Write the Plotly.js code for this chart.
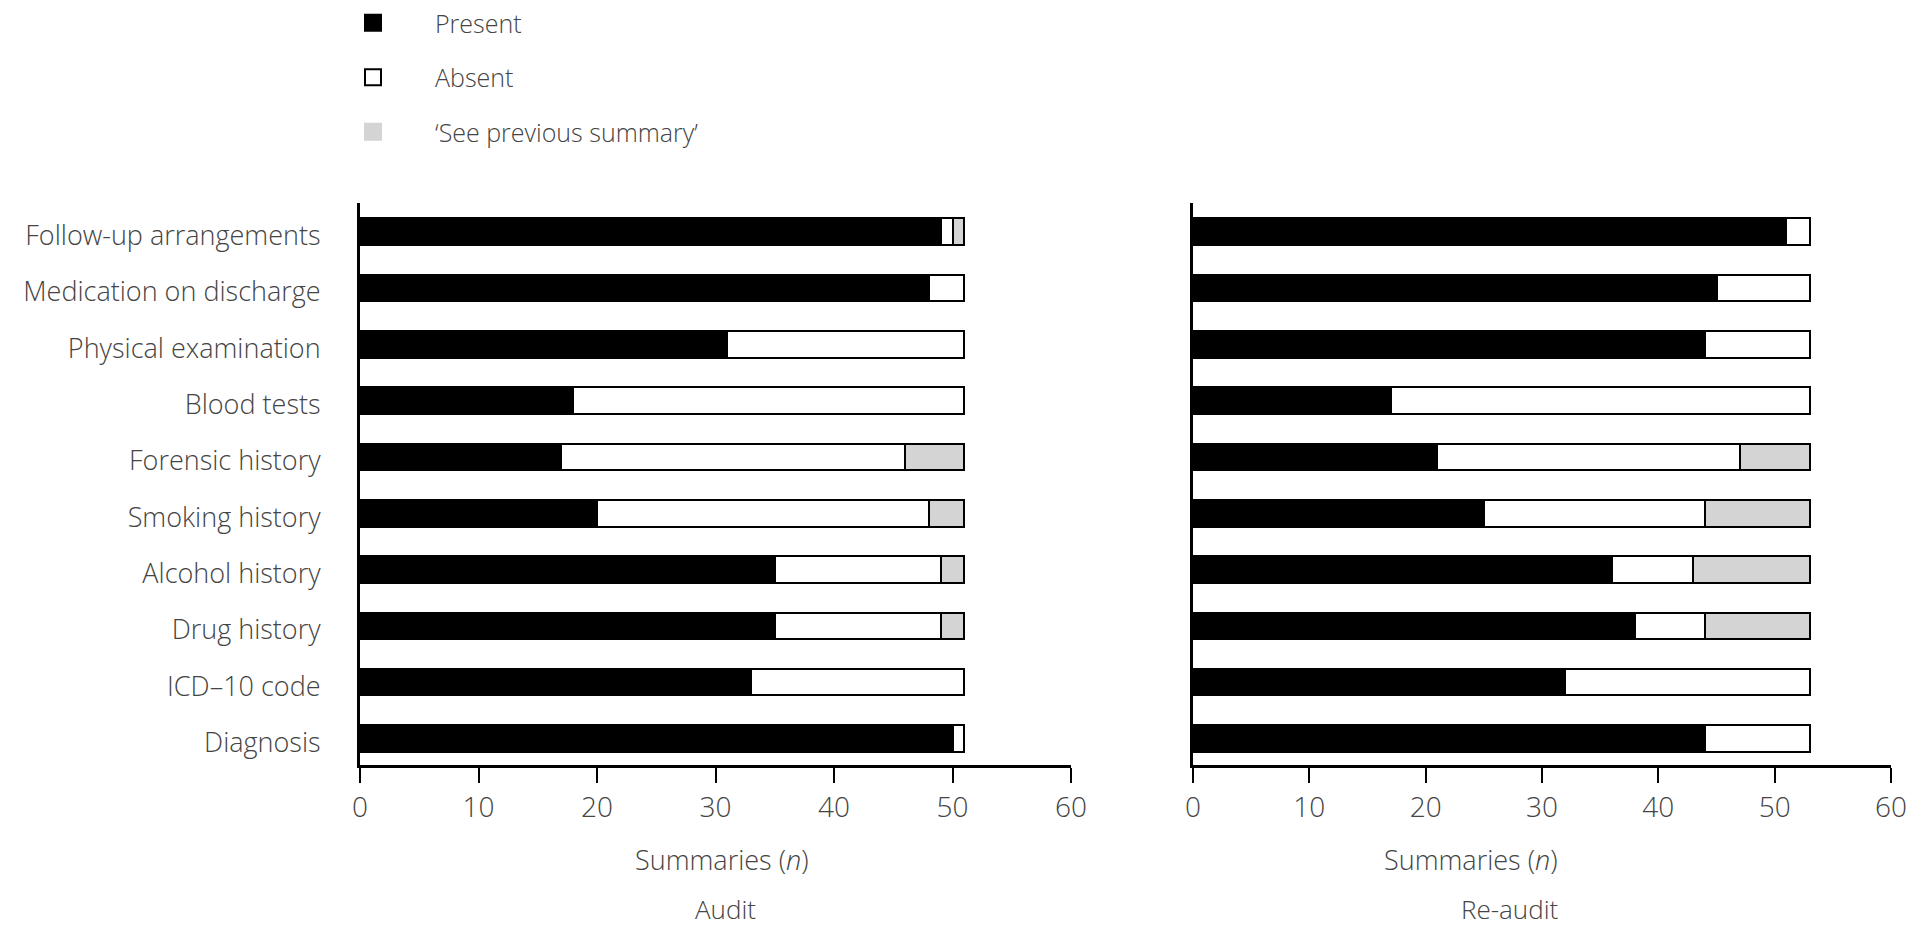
<!DOCTYPE html>
<html><head><meta charset="utf-8">
<script src="https://cdn.plot.ly/plotly-3.0.1.min.js"></script>
<style>html,body{margin:0;padding:0;background:#fff;}#chart{width:1908px;height:927px;}</style>
</head><body><div id="chart"></div>
<script>
// Categories listed bottom to top
const categories = ["Diagnosis","ICD\u201310 code","Drug history","Alcohol history","Smoking history","Forensic history","Blood tests","Physical examination","Medication on discharge","Follow-up arrangements"];
// Audit
const auditPresent = [50,33,35,35,20,17,18,31,48,49];
const auditAbsent  = [1,18,14,14,28,29,33,20,3,1];
const auditSeePrev = [0,0,2,2,3,5,0,0,0,1];
// Re-audit
const reauditPresent = [44,32,38,36,25,21,17,44,45,51];
const reauditAbsent  = [9,21,6,7,19,26,36,9,8,2];
const reauditSeePrev = [0,0,9,10,9,6,0,0,0,0];
const seriesNames = ["Present","Absent","\u2018See previous summary\u2019"];
const panelTitles = ["Audit","Re-audit"];
const axisTitle = "Summaries (<i>n</i>)";

const fills = ["#000000","#ffffff","#d4d4d4"];
const legendLines = ["#000000","#000000","#d4d4d4"];
const FONT = "Open Sans, DejaVu Sans, sans-serif";
const TXT = "#444444";
const FS = 26;

function mk(vals, i, xa, ya){
  return {type:"bar", orientation:"h", x:vals, y:categories, name:seriesNames[i],
    xaxis:xa, yaxis:ya, showlegend:false, width:0.47,
    marker:{color:fills[i], line:{color:"#000", width:2}}, hoverinfo:"x+name"};
}
function legendEntry(i){
  return {type:"scatter", mode:"markers", x:[null], y:[null], name:seriesNames[i], legendgroup:"g"+i,
    marker:{symbol:"square", size:22, color:fills[i], line:{color:legendLines[i], width:2}}, hoverinfo:"skip"};
}
const data = [
  mk(auditPresent,0,"x","y"), mk(auditAbsent,1,"x","y"), mk(auditSeePrev,2,"x","y"),
  mk(reauditPresent,0,"x2","y2"), mk(reauditAbsent,1,"x2","y2"), mk(reauditSeePrev,2,"x2","y2"),
  legendEntry(0), legendEntry(1), legendEntry(2)
];
const xcommon = {range:[0,60], dtick:10, showgrid:false, zeroline:false, showline:true, linecolor:"#000", linewidth:3,
  ticks:"outside", ticklen:15, tickwidth:2, tickcolor:"#000", tickfont:{family:FONT, size:28, color:TXT, weight:300}, fixedrange:true};
const ycommon = {type:"category", categoryorder:"array", categoryarray:categories, range:[-0.47,9.51], showgrid:false, zeroline:false,
  showline:true, linecolor:"#000", linewidth:3, ticks:"", fixedrange:true};
const annFont = {family:FONT, size:27, color:TXT, weight:300};
const layout = {
  width:1908, height:927, paper_bgcolor:"#fff", plot_bgcolor:"#fff",
  margin:{l:0,r:0,t:203,b:162}, barmode:"stack",
  font:{family:FONT, color:TXT},
  xaxis:Object.assign({}, xcommon, {domain:[360/1908, 1071/1908], anchor:"y"}),
  yaxis:Object.assign({}, ycommon, {anchor:"x", showticklabels:true, ticklabelstandoff:31, ticklabelshift:4, tickfont:{family:FONT, size:27, color:TXT, weight:300}}),
  xaxis2:Object.assign({}, xcommon, {domain:[1193/1908, 1891/1908], anchor:"y2"}),
  yaxis2:Object.assign({}, ycommon, {anchor:"x2", showticklabels:false}),
  legend:{x:311/1908, y:1, yref:"container", xanchor:"left", yanchor:"top", font:{family:FONT, size:FS-1, color:TXT, weight:300},
    tracegroupgap:19, itemwidth:114, bgcolor:"rgba(0,0,0,0)"},
  annotations:[
    {text:axisTitle, xref:"paper", yref:"paper", x:722/1908, y:-0.1676, yanchor:"middle", showarrow:false, font:annFont},
    {text:panelTitles[0], xref:"paper", yref:"paper", x:725/1908, y:-0.2560, yanchor:"middle", showarrow:false, font:{family:FONT, size:26, color:TXT, weight:300}},
    {text:axisTitle, xref:"paper", yref:"paper", x:1560/1908, y:-0.1676, yanchor:"middle", showarrow:false, font:annFont},
    {text:panelTitles[1], xref:"paper", yref:"paper", x:1561/1908, y:-0.2560, yanchor:"middle", showarrow:false, font:{family:FONT, size:26, color:TXT, weight:300}}
  ]
};
Plotly.newPlot("chart", data, layout, {displayModeBar:false});
</script></body></html>
